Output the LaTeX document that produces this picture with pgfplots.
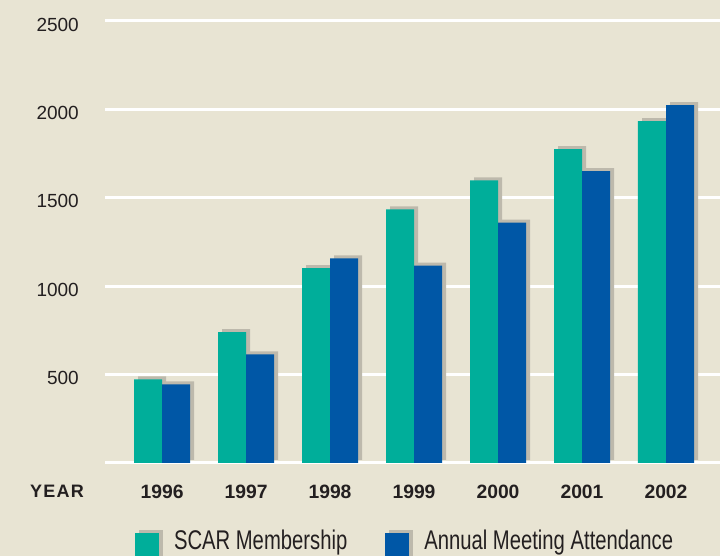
\documentclass[border=0pt]{standalone}
\usepackage{pgfplots}
\pgfplotsset{compat=1.18}
\usepackage{fontspec}
\setmainfont{Liberation Sans}
\newfontfamily\legfont[FakeStretch=0.75]{Liberation Sans}
\definecolor{bg}{HTML}{E8E4D3}
\definecolor{teal1}{HTML}{00AE9A}
\definecolor{blue1}{HTML}{0057A6}
\definecolor{shad}{HTML}{BDB9AC}
\definecolor{txt}{HTML}{231F20}
\begin{document}
\begin{tikzpicture}[x=1pt,y=1pt]
\useasboundingbox (0,0) rectangle (720,556);
\fill[bg] (0,0) rectangle (720,556);
\clip (0,0) rectangle (720,556);
\begin{axis}[
  at={(105pt,93pt)}, anchor=south west,
  scale only axis, width=615pt, height=442pt,
  xmin=-0.679, xmax=6.643, ymin=0, ymax=2500,
  axis line style={draw=none},
  major tick length=0pt,
  ytick={0,500,...,2500},
  yticklabels={,500,1000,1500,2000,2500},
  ymajorgrids, grid style={white, line width=3pt},
  xtick={0,...,6},
  xticklabels={1996,1997,1998,1999,2000,2001,2002},
  yticklabel style={font=\fontsize{19}{22}\selectfont, text=txt, anchor=east, inner sep=0pt, xshift=-26pt, yshift=-3.5pt},
  xticklabel style={font=\bfseries\fontsize{19.3}{22}\selectfont, text=txt, anchor=base, inner sep=0pt, yshift=-36pt},
  legend columns=2,
  legend style={at={(0.0488,-0.1516)}, anchor=north west, draw=none, fill=none,
    inner sep=0pt, outer sep=0pt,
    font=\legfont\fontsize{27}{31}\selectfont, text=txt,
    cells={anchor=base west},
    nodes={inner sep=0pt},
    /tikz/every odd column/.append style={column sep=11pt},
    /tikz/every even column/.append style={column sep=38pt}},
]
% shadows
\addplot[ybar, bar width=28pt, bar shift=-10pt, yshift=3pt, fill=shad, draw=none, forget plot]
  coordinates {(0,473) (1,740) (2,1102) (3,1434) (4,1598) (5,1775) (6,1934)};
\addplot[ybar, bar width=28pt, bar shift=18pt, yshift=3pt, fill=shad, draw=none, forget plot]
  coordinates {(0,445) (1,615) (2,1158) (3,1117) (4,1360) (5,1651) (6,2024)};
% bars
\addplot[ybar, bar width=28pt, bar shift=-14pt, fill=teal1, draw=none,
  legend image code/.code={\fill[shad] (4pt,-12pt) rectangle (28pt,19.5pt); \fill[teal1] (0pt,-12pt) rectangle (24pt,16.5pt);}]
  coordinates {(0,473) (1,740) (2,1102) (3,1434) (4,1598) (5,1775) (6,1934)};
\addlegendentry{SCAR Membership}
\addplot[ybar, bar width=28pt, bar shift=14pt, fill=blue1, draw=none,
  legend image code/.code={\fill[shad] (4pt,-12pt) rectangle (28pt,19.5pt); \fill[blue1] (0pt,-12pt) rectangle (24pt,16.5pt);}]
  coordinates {(0,445) (1,615) (2,1158) (3,1117) (4,1360) (5,1651) (6,2024)};
\addlegendentry{Annual Meeting Attendance}
\end{axis}
\node[anchor=base west, inner sep=0pt, text=txt, font=\bfseries\fontsize{18}{22}\selectfont\addfontfeature{LetterSpace=7}] at (30,58) {YEAR};
\end{tikzpicture}
\end{document}
